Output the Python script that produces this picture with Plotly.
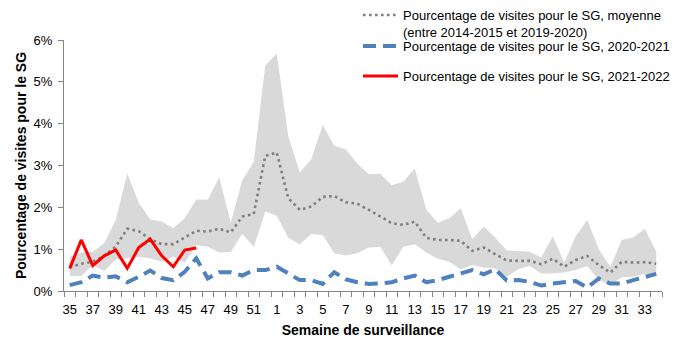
import plotly.graph_objects as go

# Surveillance weeks (season runs from week 35 to week 34 of the following year)
weeks = list(range(35, 53)) + list(range(1, 35))

# Historical range (min / max between 2014-2015 and 2019-2020), in %
hist_upper = [0.82, 0.92, 0.94, 1.14, 1.70, 2.81, 2.11, 1.71, 1.66, 1.50,
              1.74, 2.19, 2.18, 2.72, 1.63, 2.65, 3.09, 5.39, 5.68, 3.70,
              2.83, 3.15, 3.97, 3.47, 3.39, 3.05, 2.79, 2.80, 2.53, 2.61,
              2.93, 1.95, 1.63, 1.74, 1.98, 1.24, 1.54, 1.27, 0.97, 0.96,
              0.94, 0.80, 1.31, 0.68, 1.31, 1.70, 1.00, 0.58, 1.22, 1.28,
              1.49, 0.94]
hist_lower = [0.36, 0.36, 0.62, 0.48, 0.76, 0.78, 0.82, 0.78, 0.70, 0.82,
              0.68, 1.10, 1.06, 0.92, 0.93, 1.37, 1.05, 1.90, 1.80, 1.27,
              1.12, 1.36, 1.34, 0.90, 0.85, 0.90, 1.04, 1.06, 0.61, 1.06,
              1.12, 0.92, 0.77, 0.70, 0.52, 0.62, 0.56, 0.54, 0.34, 0.52,
              0.60, 0.42, 0.42, 0.44, 0.50, 0.60, 0.26, 0.14, 0.33, 0.34,
              0.41, 0.36]

# Historical mean, in %
hist_mean = [0.57, 0.65, 0.70, 0.84, 1.06, 1.49, 1.43, 1.24, 1.12, 1.12,
             1.28, 1.44, 1.42, 1.49, 1.40, 1.78, 1.84, 3.23, 3.31, 2.22,
             1.94, 2.02, 2.25, 2.27, 2.12, 2.09, 1.94, 1.78, 1.62, 1.58,
             1.66, 1.27, 1.22, 1.22, 1.20, 0.96, 1.04, 0.88, 0.73, 0.72,
             0.72, 0.64, 0.77, 0.58, 0.74, 0.84, 0.62, 0.44, 0.70, 0.68,
             0.69, 0.65]

# Season 2020-2021, in %
season_2020_21 = [0.14, 0.21, 0.37, 0.32, 0.35, 0.21, 0.34, 0.49, 0.31, 0.26,
                  0.46, 0.78, 0.30, 0.45, 0.45, 0.37, 0.50, 0.50, 0.58, 0.42,
                  0.26, 0.26, 0.17, 0.45, 0.28, 0.21, 0.17, 0.18, 0.21, 0.30,
                  0.37, 0.21, 0.26, 0.34, 0.42, 0.50, 0.40, 0.52, 0.25, 0.26,
                  0.22, 0.13, 0.18, 0.22, 0.24, 0.08, 0.30, 0.18, 0.18, 0.26,
                  0.34, 0.41]

# Season 2021-2022 (weeks 35 to 46), in %
season_2021_22 = [0.54, 1.22, 0.61, 0.84, 0.98, 0.54, 1.04, 1.24, 0.84, 0.58,
                  0.98, 1.03]

y_ticks = [0, 1, 2, 3, 4, 5, 6]
y_tick_labels = ["0%", "1%", "2%", "3%", "4%", "5%", "6%"]

FONT = "Liberation Sans, Arial, sans-serif"
AXIS_GREY = "#868686"

pos = list(range(len(weeks)))

fig = go.Figure()

# Shaded historical range
fig.add_trace(go.Scatter(
    x=pos + pos[::-1],
    y=hist_upper + hist_lower[::-1],
    fill="toself", fillcolor="#d9d9d9",
    line=dict(width=0), mode="lines",
    showlegend=False, hoverinfo="skip",
))

fig.add_trace(go.Scatter(
    x=pos, y=hist_mean, mode="lines",
    name="Pourcentage de visites pour le SG, moyenne<br>(entre 2014-2015 et 2019-2020)",
    line=dict(color="#7f7f7f", width=2.6, dash="2.6px,3.4px"),
    legend="legend",
))

fig.add_trace(go.Scatter(
    x=pos, y=season_2020_21, mode="lines",
    name="Pourcentage de visites pour le SG, 2020-2021",
    line=dict(color="#4f81bd", width=4, dash="13px,7px"),
    legend="legend2",
))

fig.add_trace(go.Scatter(
    x=pos[:len(season_2021_22)], y=season_2021_22, mode="lines",
    name="Pourcentage de visites pour le SG, 2021-2022",
    line=dict(color="#ff0000", width=3),
    legend="legend3",
))

legend_common = dict(
    xref="container", yref="container", xanchor="left", yanchor="top",
    x=358 / 681, bgcolor="rgba(0,0,0,0)", borderwidth=0,
    font=dict(family=FONT, size=13, color="#000000"),
    itemwidth=35, valign="top",
)

fig.update_layout(
    width=681, height=342,
    margin=dict(l=64, r=19, t=40, b=51, autoexpand=False),
    paper_bgcolor="white", plot_bgcolor="white",
    font=dict(family=FONT, size=13, color="#000000"),
    legend=dict(y=1.0, **legend_common),
    legend2=dict(y=1 - 31 / 342, **legend_common),
    legend3=dict(y=1 - 61 / 342, **legend_common),
    xaxis=dict(
        range=[-0.5, len(weeks) - 0.5],
        tickmode="array",
        tickvals=pos[::2],
        ticktext=[str(w) for w in weeks[::2]],
        ticks="", showgrid=False, zeroline=False,
        showline=True, linecolor=AXIS_GREY, linewidth=1,
        tickfont=dict(family=FONT, size=13, color="#000000"),
        ticklabelstandoff=6,
        minor=dict(tickmode="array",
                   tickvals=[p - 0.5 for p in pos] + [len(weeks) - 0.5],
                   ticks="outside", ticklen=5, tickcolor=AXIS_GREY,
                   showgrid=False),
        title=dict(text="Semaine de surveillance",
                   font=dict(family=FONT, size=14, weight="bold"),
                   standoff=9),
    ),
    yaxis=dict(
        range=[0, 6],
        tickmode="array", tickvals=y_ticks, ticktext=y_tick_labels,
        ticks="outside", ticklen=5, tickcolor=AXIS_GREY,
        showgrid=False, zeroline=False,
        showline=True, linecolor=AXIS_GREY, linewidth=1,
        tickfont=dict(family=FONT, size=13, color="#000000"),
        ticklabelstandoff=3,
        title=dict(text="Pourcentage de visites pour le SG",
                   font=dict(family=FONT, size=14, weight="bold"),
                   standoff=3),
    ),
)

fig.write_html("out.html")
